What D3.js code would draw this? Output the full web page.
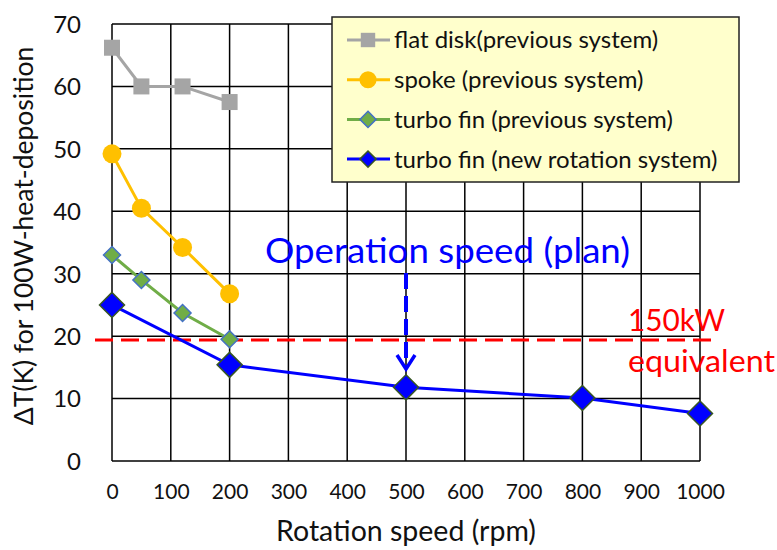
<!DOCTYPE html>
<html>
<head>
<meta charset="utf-8">
<script src="https://cdn.jsdelivr.net/npm/d3@7"></script>
<style>
  body { margin: 0; background: #fff; }
  text { font-family: Lato, "Open Sans", sans-serif; }
</style>
</head>
<body>
<div id="chart"></div>
<script>
// series data
var flatX = [0, 50, 120, 200],
    flatY = [66.2, 60, 60, 57.5];
var spokeX = [0, 50, 120, 200],
    spokeY = [49.2, 40.5, 34.2, 26.8];
var finPrevX = [0, 50, 120, 200],
    finPrevY = [33, 29, 23.7, 19.5];
var finNewX = [0, 200, 500, 800, 1000],
    finNewY = [25, 15.4, 11.8, 10.1, 7.6];
var xTicks = [0, 100, 200, 300, 400, 500, 600, 700, 800, 900, 1000];
var yTicks = [0, 10, 20, 30, 40, 50, 60, 70];
var limit150kW = 19.4;
var planSpeed = 500;

var width = 777, height = 550;
var margin = {left: 112, right: 77, top: 24, bottom: 89};

var svg = d3.select("#chart").append("svg")
    .attr("width", width)
    .attr("height", height);

var x = d3.scaleLinear().domain([0, 1000]).range([margin.left, width - margin.right]);
var y = d3.scaleLinear().domain([0, 70]).range([height - margin.bottom, margin.top]);

// grid
svg.append("g").selectAll("line.v")
    .data(xTicks)
    .enter().append("line")
    .attr("x1", d => x(d)).attr("x2", d => x(d))
    .attr("y1", y(0)).attr("y2", y(70))
    .attr("stroke", "#000").attr("stroke-width", 1.5);
svg.append("g").selectAll("line.h")
    .data(yTicks)
    .enter().append("line")
    .attr("x1", x(0)).attr("x2", x(1000))
    .attr("y1", d => y(d)).attr("y2", d => y(d))
    .attr("stroke", "#000").attr("stroke-width", 1.5);

// axes labels (no domain lines, grid does the job)
var xAxis = svg.append("g")
    .attr("transform", "translate(0," + (y(0) + 20) + ")")
    .call(d3.axisBottom(x).tickValues(xTicks).tickSize(0).tickFormat(d3.format("d")));
xAxis.select(".domain").remove();
xAxis.selectAll("text").attr("font-size", 21).attr("fill", "#111")
    .style("font-family", "Lato, sans-serif");

var yAxis = svg.append("g")
    .attr("transform", "translate(" + (x(0) - 28) + ",0)")
    .call(d3.axisLeft(y).tickValues(yTicks).tickSize(0));
yAxis.select(".domain").remove();
yAxis.selectAll("text").attr("font-size", 24).attr("fill", "#111").attr("dy", "0.35em")
    .style("font-family", "Lato, sans-serif");

svg.append("text")
    .attr("x", 406).attr("y", 541)
    .attr("text-anchor", "middle").attr("font-size", 28.5).attr("fill", "#111")
    .text("Rotation speed (rpm)");

svg.append("text")
    .attr("transform", "translate(33," + 236 + ") rotate(-90)")
    .attr("text-anchor", "middle").attr("font-size", 26.5).attr("fill", "#111")
    .text("ΔT(K) for 100W-heat-deposition");

// 150kW line
svg.append("line")
    .attr("x1", 95).attr("x2", 718)
    .attr("y1", y(limit150kW)).attr("y2", y(limit150kW))
    .attr("stroke", "#ff0000").attr("stroke-width", 3)
    .attr("stroke-dasharray", "18,8");

svg.append("text")
    .attr("x", 628).attr("y", 331)
    .attr("font-size", 30).attr("fill", "#ff0000")
    .attr("textLength", 97).attr("lengthAdjust", "spacingAndGlyphs")
    .text("150kW");
svg.append("text")
    .attr("x", 628).attr("y", 372)
    .attr("font-size", 31).attr("fill", "#ff0000")
    .attr("textLength", 147).attr("lengthAdjust", "spacingAndGlyphs")
    .text("equivalent");

var line = d3.line().x(d => x(d[0])).y(d => y(d[1]));
var zip = (a, b) => a.map((v, i) => [v, b[i]]);

var series = [
    {name: "flat disk(previous system)", xs: flatX, ys: flatY, color: "#a5a5a5", marker: "square", size: 16, edge: "#a5a5a5"},
    {name: "spoke (previous system)", xs: spokeX, ys: spokeY, color: "#ffc000", marker: "circle", size: 19, edge: "#ffc000"},
    {name: "turbo fin (previous system)", xs: finPrevX, ys: finPrevY, color: "#70ad47", marker: "diamond", size: 17, edge: "#4472c4"},
    {name: "turbo fin (new rotation system)", xs: finNewX, ys: finNewY, color: "#0000ff", marker: "diamond", size: 25, edge: "#375623"}
];

function drawMarker(g, s, cx, cy, scale) {
    var sz = s.size * scale, h = sz / 2;
    if (s.marker === "square") {
        g.append("rect").attr("x", cx - h).attr("y", cy - h)
            .attr("width", sz).attr("height", sz).attr("fill", s.color);
    } else if (s.marker === "circle") {
        g.append("circle").attr("cx", cx).attr("cy", cy).attr("r", h).attr("fill", s.color);
    } else {
        g.append("path")
            .attr("d", "M" + cx + "," + (cy - h) + "L" + (cx + h) + "," + cy + "L" + cx + "," + (cy + h) + "L" + (cx - h) + "," + cy + "Z")
            .attr("fill", s.color).attr("stroke", s.edge).attr("stroke-width", 1.5);
    }
}

series.forEach(function (s) {
    var pts = zip(s.xs, s.ys);
    svg.append("path").datum(pts)
        .attr("d", line)
        .attr("fill", "none").attr("stroke", s.color).attr("stroke-width", 3);
    var g = svg.append("g");
    pts.forEach(function (p) { drawMarker(g, s, x(p[0]), y(p[1]), 1); });
});

// operation speed annotation
svg.append("text")
    .attr("x", 265).attr("y", 263)
    .attr("font-size", 35).attr("fill", "#0000ff")
    .attr("textLength", 365).attr("lengthAdjust", "spacingAndGlyphs")
    .text("Operation speed (plan)");

svg.append("line")
    .attr("x1", x(planSpeed)).attr("x2", x(planSpeed))
    .attr("y1", 273).attr("y2", 366)
    .attr("stroke", "#0000ff").attr("stroke-width", 4)
    .attr("stroke-dasharray", "16,7");
svg.append("path")
    .attr("d", "M" + (x(planSpeed) - 9) + "," + 355 + "L" + x(planSpeed) + "," + 369 + "L" + (x(planSpeed) + 9) + "," + 355)
    .attr("fill", "none").attr("stroke", "#0000ff").attr("stroke-width", 3.5);

// legend
var legend = svg.append("g");
legend.append("rect")
    .attr("x", 332).attr("y", 17).attr("width", 407).attr("height", 165)
    .attr("fill", "#ffffcc").attr("stroke", "#222").attr("stroke-width", 1.5);
series.forEach(function (s, i) {
    var ly = 40 + i * 39.7;
    legend.append("line")
        .attr("x1", 347).attr("x2", 390).attr("y1", ly).attr("y2", ly)
        .attr("stroke", s.color).attr("stroke-width", 3);
    drawMarker(legend, s, 368, ly, s.marker === "diamond" ? (i === 3 ? 0.65 : 0.95) : 0.9);
    legend.append("text")
        .attr("x", 394).attr("y", ly).attr("dy", "0.35em")
        .attr("font-size", 24).attr("fill", "#111")
        .text(s.name);
});
</script>
</body>
</html>
